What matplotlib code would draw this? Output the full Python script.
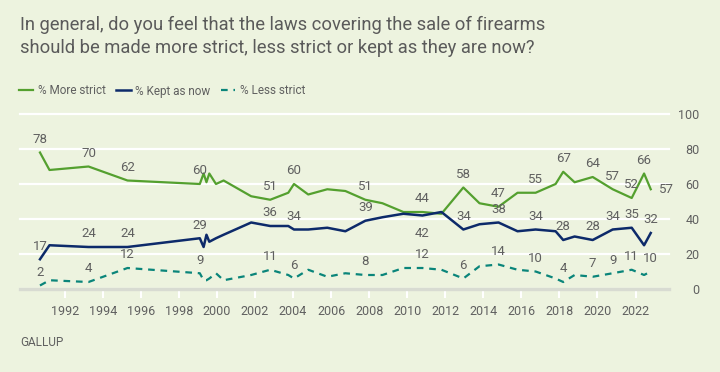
import matplotlib
matplotlib.use("Agg")
import matplotlib.pyplot as plt

plt.rcParams["font.family"] = ["Liberation Sans Narrow", "Roboto", "DejaVu Sans"]

# ------------------------------------------------------------------ data
years = [1990.7, 1991.2, 1993.25, 1995.3, 1999.1, 1999.3, 1999.45, 1999.6,
         1999.95, 2000.35, 2001.8, 2002.8, 2003.75, 2004.05, 2004.8, 2005.8,
         2006.75, 2007.8, 2008.7, 2009.8, 2010.8, 2011.8, 2012.95, 2013.8,
         2014.8, 2015.8, 2016.75, 2017.8, 2018.2, 2018.8, 2019.75, 2020.8,
         2021.8, 2022.45, 2022.8]
more_strict = [78, 68, 70, 62, 60, 66, 61, 66, 60, 62, 53, 51, 55, 60, 54, 57,
               56, 51, 49, 44, 44, 43, 58, 49, 47, 55, 55, 60, 67, 61, 64, 57,
               52, 66, 57]
kept_as_now = [17, 25, 24, 24, 29, 24, 31, 27, 29, 31, 38, 36, 36, 34, 34, 35,
               33, 39, 41, 43, 42, 44, 34, 37, 38, 33, 34, 33, 28, 30, 28, 34,
               35, 25, 32]
less_strict = [2, 5, 4, 12, 9, 5, 5, 6, 9, 5, 8, 11, 8, 6, 11, 7, 9, 8, 8, 12,
               12, 11, 6, 13, 14, 11, 10, 6, 4, 8, 7, 9, 11, 8, 10]

# which points carry a value label
more_lab = [0, 2, 3, 4, 11, 13, 17, 20, 22, 24, 26, 28, 30, 31, 32, 33, 34]
kept_lab = [0, 2, 3, 4, 11, 13, 17, 20, 22, 24, 26, 28, 30, 31, 32, 34]
less_lab = [0, 2, 3, 4, 11, 13, 17, 20, 22, 24, 26, 28, 30, 31, 32, 34]

tick_years = list(range(1992, 2023, 2))
y_ticks = [0, 20, 40, 60, 80, 100]

TITLE = ("In general, do you feel that the laws covering the sale of firearms\n"
         "should be made more strict, less strict or kept as they are now?")

# ------------------------------------------------------------------ style
BG = "#edf3df"
GREEN = "#54a02f"
NAVY = "#0d2a6a"
TEAL = "#0a857a"
TXT = "#606060"

fig = plt.figure(figsize=(7.2, 3.72), dpi=100, facecolor=BG)
ax = fig.add_axes([20 / 720, 83 / 372, 649 / 720, 175 / 372], facecolor=BG)

ax.plot(years, more_strict, color=GREEN, lw=1.6, label="% More strict",
        zorder=4)
ax.plot(years, kept_as_now, color=NAVY, lw=1.8, label="% Kept as now",
        zorder=4)
ax.plot(years, less_strict, color=TEAL, lw=1.6, ls=(0, (3, 2.6)),
        label="% Less strict", zorder=4)


def label(series, idx, dy=9.5, dx=0):
    for i in idx:
        ax.annotate(str(series[i]), (years[i], series[i]),
                    xytext=(dx, dy), textcoords="offset points",
                    ha="center", va="center", fontsize=9.5, color=TXT,
                    annotation_clip=False, zorder=5)


label(more_strict, more_lab[:-1])
label(more_strict, more_lab[-1:], dy=0, dx=11)
label(kept_as_now, [i for i in kept_lab if i != 20])
label(kept_as_now, [20], dy=-13)
label(less_strict, less_lab)

ax.set_xlim(1989.65, 2023.76)
ax.set_ylim(0, 100)
ax.set_xticks(tick_years)
ax.set_yticks(y_ticks)
ax.grid(axis="y", color="white", lw=1.6)
ax.set_axisbelow(True)
for gl in ax.get_ygridlines():
    gl.set_clip_on(False)
for s in ["top", "right", "left"]:
    ax.spines[s].set_visible(False)
ax.spines["bottom"].set_color("#d8dbd2")
ax.spines["bottom"].set_linewidth(2.4)
ax.tick_params(axis="x", colors="white", length=6.5, width=1.5, pad=5,
               labelcolor=TXT, labelsize=9)
ax.yaxis.tick_right()
ax.tick_params(axis="y", length=0, pad=22, labelcolor=TXT, labelsize=9)
for t in ax.get_yticklabels():
    t.set_horizontalalignment("right")

fig.text(20 / 720, 1 - 16 / 372, TITLE, ha="left", va="top", fontsize=13.2,
         color="#5a5a5a", linespacing=1.35)

ax.legend(loc="center left", bbox_to_anchor=(19 / 720, 1 - 91 / 372),
          bbox_transform=fig.transFigure, ncol=3, frameon=False,
          handlelength=1.2, handletextpad=0.4, columnspacing=0.9,
          fontsize=8.5, labelcolor=TXT, borderpad=0, borderaxespad=0)

fig.text(20 / 720, 1 - 342 / 372, "GALLUP", ha="left", va="center",
         fontsize=8.5, color=TXT)

fig.savefig("out.png", dpi=100, facecolor=BG)
